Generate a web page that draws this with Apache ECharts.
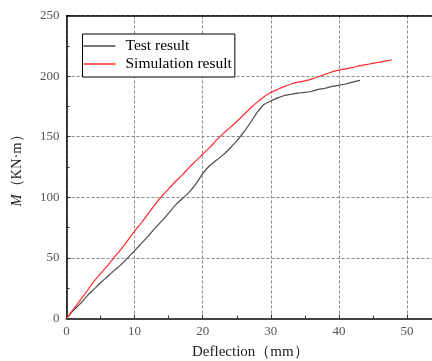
<!DOCTYPE html>
<html><head><meta charset="utf-8">
<script src="https://cdn.jsdelivr.net/npm/echarts@6/dist/echarts.min.js"></script>
<style>html,body{margin:0;padding:0;background:#fff;overflow:hidden}#c{width:432px;height:361px}</style>
</head><body><div id="c"></div>
<script>
const testX = [0,1,2,3,4,5,6,7,8,9,10,11,12,13,14,15,16,17,18,19,20,21,22,23,24,25,26,27,28,29,30,31,32,33,34,35,36,37,38,39,40,41,42,43.1];
const testY = [0,6.5,12,18.5,24,29.5,34.5,39.5,44.5,50,56,62,68,74.5,80.5,87,93.5,99,104,111,119.5,126,130.5,135,140.5,146.5,153.5,161.5,170,176.5,179.5,182,184,185,186,186.5,187.5,189,190,191.5,192.5,193.5,195,196.5];
const simX = [0,1,2,3,4,5,6,7,8,9,10,11,12,13,14,15,16,17,18,19,20,21,22,23,24,25,26,27,28,29,30,31,32,33,34,35,36,37,38,39,40,41,42,43,44,45,46,47,47.8];
const simY = [0,7.5,15,22.5,30.5,37,43.5,50.5,57,64.5,72,79,86.5,94,101,107,113,118.5,124.5,130,135.5,141,147,152.5,157.5,162.5,168,173.5,178.5,183,186.5,189,191.5,193.5,195,196,197.5,199.5,201.5,203.5,205,206,207,208.5,209.5,210.5,211.5,212.5,213.5];
const seriesNames = ['Test result','Simulation result'];
const xTicks = [0,10,20,30,40,50];
const yTicks = [0,50,100,150,200,250];

const pair = (xs, ys) => xs.map((x,i)=>[x,ys[i]]);
const serif = 'Liberation Serif, Times New Roman, serif';
const chart = echarts.init(document.getElementById('c'), null, {renderer:'canvas'});
chart.setOption({
  animation:false,
  grid:{left:66.5, top:15.5, right:0, height:303, outerBoundsMode:'none', containLabel:false, show:false},
  legend:{
    left:82.5, top:34, orient:'vertical', icon:'rect', itemWidth:32, itemHeight:1.5, itemGap:2,
    padding:[4,3,5,1], borderColor:'#000', borderWidth:1, backgroundColor:'#fff',
    textStyle:{fontFamily:serif, fontSize:15.5, color:'#000', padding:[0,0,0,5]},
    data:seriesNames
  },
  xAxis:{
    type:'value', min:xTicks[0], max:53.67, interval:10,
    axisLine:{lineStyle:{color:'#444', width:2}},
    axisTick:{inside:true, length:4, lineStyle:{color:'#333'}},
    minorTick:{show:true, splitNumber:2, length:3, lineStyle:{color:'#333'}},
    axisLabel:{fontFamily:serif, fontSize:13, color:'#555', margin:7, showMaxLabel:false, formatter:v=>xTicks.includes(v)?String(v):''},
    splitLine:{show:true, showMaxLine:false, lineStyle:{color:'#888', type:[3,2], width:1}}
  },
  yAxis:{
    type:'value', min:yTicks[0], max:250, interval:50,
    name:'{i|M}（KN·m）', nameLocation:'middle', nameGap:42, nameRotate:90,
    nameTextStyle:{fontFamily:serif, fontSize:14.5, color:'#222', rich:{i:{fontStyle:'italic', fontFamily:serif, fontSize:14.5, color:'#222'}}},
    axisLine:{show:true, lineStyle:{color:'#000', width:1.5}},
    axisTick:{show:true, inside:true, length:4, lineStyle:{color:'#333'}},
    minorTick:{show:true, splitNumber:2, length:3, lineStyle:{color:'#333'}},
    axisLabel:{fontFamily:serif, fontSize:13, color:'#555', margin:7, formatter:v=>yTicks.includes(v)?String(v):''},
    splitLine:{show:true, lineStyle:{color:'#888', type:[3,2], width:1}}
  },
  graphic:[{type:'text', left:192, top:345, style:{text:'Deflection（mm）', font:'15px '+serif, fill:'#222'}}],
  series:[
    {name:seriesNames[0], type:'line', data:pair(testX,testY), smooth:0.3, symbol:'none', lineStyle:{color:'#4a4a4a', width:1.2}, itemStyle:{color:'#4a4a4a'},
     markLine:{silent:true, symbol:'none', label:{show:false}, lineStyle:{color:'#000', type:'solid', width:1.5}, data:[{yAxis:yTicks[yTicks.length-1]}]}},
    {name:seriesNames[1], type:'line', data:pair(simX,simY), smooth:0.3, symbol:'none', lineStyle:{color:'#ff2a2a', width:1.2}, itemStyle:{color:'#ff2a2a'}}
  ]
});
</script></body></html>
